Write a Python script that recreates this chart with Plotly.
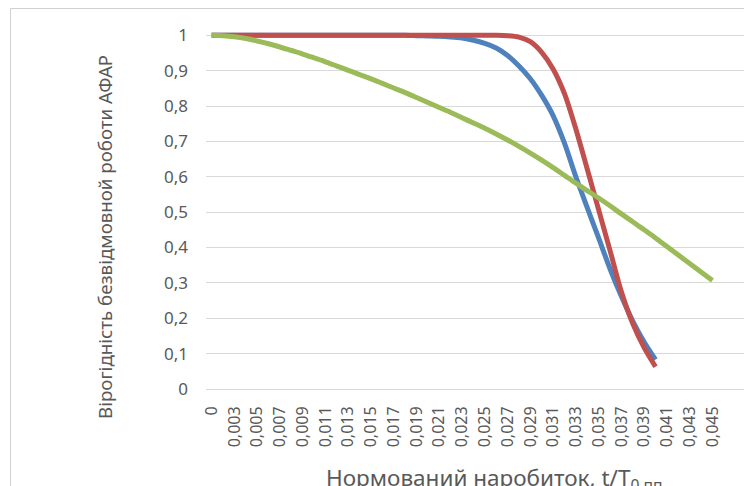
import plotly.graph_objects as go

categories = ["0", "0,002", "0,003", "0,004", "0,005", "0,006", "0,007", "0,008", "0,009", "0,010",
              "0,011", "0,012", "0,013", "0,014", "0,015", "0,016", "0,017", "0,018", "0,019", "0,020",
              "0,021", "0,022", "0,023", "0,024", "0,025", "0,026", "0,027", "0,028", "0,029", "0,030",
              "0,031", "0,032", "0,033", "0,034", "0,035", "0,036", "0,037", "0,038", "0,039", "0,040",
              "0,041", "0,042", "0,043", "0,044", "0,045"]

tick_labels = ["0", "0,003", "0,005", "0,007", "0,009", "0,011", "0,013", "0,015", "0,017", "0,019",
               "0,021", "0,023", "0,025", "0,027", "0,029", "0,031", "0,033", "0,035", "0,037", "0,039",
               "0,041", "0,043", "0,045"]

blue_values = [1.0, 1.0, 1.0, 1.0, 1.0, 1.0, 1.0, 1.0, 1.0, 1.0,
               1.0, 1.0, 1.0, 1.0, 1.0, 1.0, 1.0, 1.0, 0.999, 0.998,
               0.997, 0.995, 0.992, 0.986, 0.977, 0.964, 0.943, 0.913, 0.877, 0.830,
               0.773, 0.695, 0.600, 0.513, 0.427, 0.340, 0.262, 0.192, 0.133, 0.083]

red_values = [1.0, 1.0, 1.0, 1.0, 1.0, 1.0, 1.0, 1.0, 1.0, 1.0,
              1.0, 1.0, 1.0, 1.0, 1.0, 1.0, 1.0, 1.0, 1.0, 1.0,
              1.0, 1.0, 1.0, 1.0, 1.0, 1.0, 0.999, 0.995, 0.982, 0.952,
              0.905, 0.835, 0.735, 0.622, 0.507, 0.392, 0.275, 0.185, 0.117, 0.063]

green_values = [1.0, 0.999, 0.996, 0.991, 0.984, 0.976, 0.967, 0.957, 0.947, 0.936,
                0.925, 0.913, 0.901, 0.889, 0.877, 0.864, 0.851, 0.838, 0.824, 0.810,
                0.796, 0.782, 0.767, 0.752, 0.737, 0.721, 0.704, 0.686, 0.667, 0.647,
                0.626, 0.604, 0.582, 0.561, 0.540, 0.518, 0.495, 0.473, 0.450, 0.427,
                0.403, 0.379, 0.355, 0.331, 0.307]

y_title = "Вірогідність безвідмовной роботи АФАР"
x_title = "Нормований наробиток, t/T<sub>0 пп</sub>"

FONT = "Noto Sans"
TXT = "#595959"
GRID = "#D9D9D9"

W, H = 744, 486
ML, MR, MT, MB = 206, 0, 30, 97
PW = W - ML - MR
PH = H - MT - MB
CAT_W = 11.38


def px_x(p):
    return (p - ML) / PW


def px_y(p):
    return (H - MB - p) / PH


fig = go.Figure()
series = [
    (categories[:len(blue_values)], blue_values, "#4F81BD"),
    (categories[:len(red_values)], red_values, "#C0504D"),
    (categories[:len(green_values)], green_values, "#9BBB59"),
]
for xs, ys, col in series:
    fig.add_trace(go.Scatter(
        x=xs, y=ys, mode="lines",
        line=dict(color=col, width=5, shape="spline", smoothing=0.8),
        showlegend=False, hoverinfo="skip",
    ))

fig.update_layout(
    width=W, height=H,
    margin=dict(l=ML, r=MR, t=MT, b=MB, pad=0),
    paper_bgcolor="white", plot_bgcolor="white",
    font=dict(family=FONT, color=TXT, size=16),
    xaxis=dict(
        type="category", categoryorder="array", categoryarray=categories,
        range=[-0.5, -0.5 + PW / CAT_W],
        tickmode="array", tickvals=tick_labels, ticktext=tick_labels,
        tickangle=-90, tickfont=dict(size=16, color=TXT, family=FONT),
        showgrid=False, zeroline=False,
        showline=True, linecolor=GRID, linewidth=1,
        ticks="", ticklabelstandoff=10,
    ),
    yaxis=dict(
        range=[0, 1.015], tickmode="array",
        tickvals=[0, 0.1, 0.2, 0.3, 0.4, 0.5, 0.6, 0.7, 0.8, 0.9, 1.0],
        ticktext=["0", "0,1", "0,2", "0,3", "0,4", "0,5", "0,6", "0,7", "0,8", "0,9", "1"],
        tickfont=dict(size=17, color=TXT, family=FONT),
        showgrid=True, gridcolor=GRID, gridwidth=1,
        zeroline=False, showline=False, ticks="", ticklabelstandoff=17,
    ),
    shapes=[dict(
        type="rect", xref="paper", yref="paper",
        x0=px_x(10.5), x1=1.1, y0=-0.5, y1=px_y(8.5),
        line=dict(color="#D0D0D0", width=1), fillcolor="rgba(0,0,0,0)", layer="above",
    )],
    annotations=[
        dict(text=y_title, textangle=-90, xref="paper", yref="paper",
             x=px_x(104), y=px_y(421), xanchor="center", yanchor="bottom",
             showarrow=False, font=dict(size=18.7, color=TXT, family=FONT)),
        dict(text=x_title, xref="paper", yref="paper",
             x=px_x(324), y=px_y(460), xanchor="left", yanchor="top",
             showarrow=False, font=dict(size=22.5, color=TXT, family=FONT)),
    ],
)

fig.write_html("out.html", config={"displayModeBar": False},
               post_script="document.body.style.margin='0';document.body.style.overflow='hidden';")
